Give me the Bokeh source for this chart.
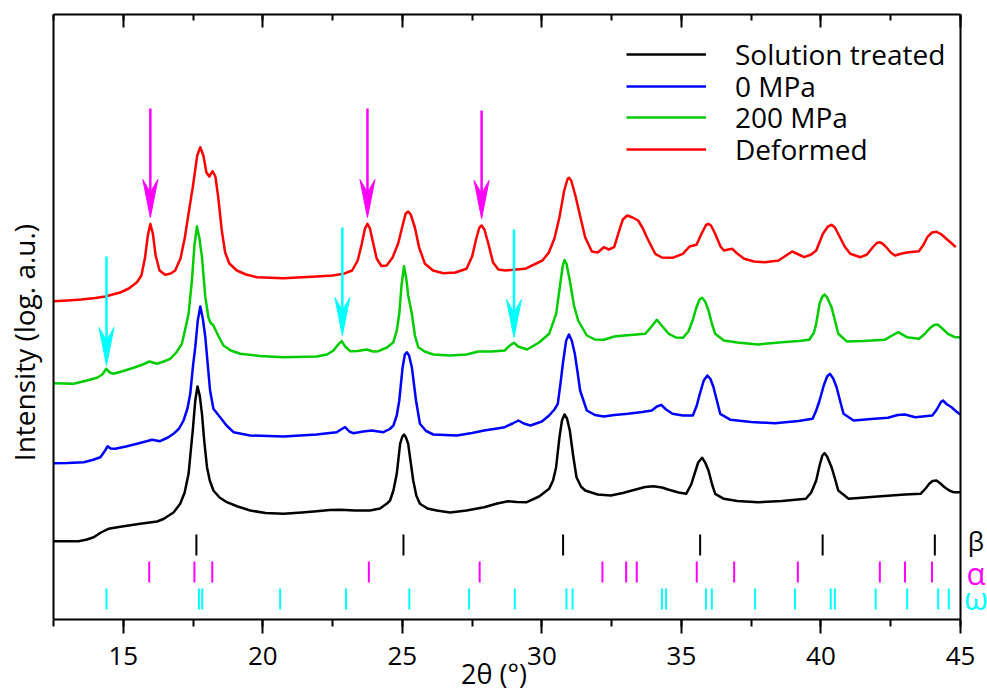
from math import pi
from bokeh.plotting import figure
from bokeh.models import (Range1d, LinearAxis, SingleIntervalTicker, Legend, LegendItem, Label, Span)
from bokeh.embed import file_html
from bokeh.resources import INLINE

# ---------------- data: (2theta [deg], intensity [log. a.u., offset]) ----------------
solution_treated = [(12.50, 78.3), (13.00, 78.3), (13.40, 78.3), (13.70, 80.0), (13.94, 82.3), (14.20, 87.0),
    (14.47, 90.7), (15.01, 93.3), (15.61, 95.7), (16.21, 98.0), (16.44, 100.5), (16.80, 107.0), (17.04, 115.7),
    (17.20, 127.0), (17.34, 145.7), (17.42, 169.0), (17.49, 189.0), (17.58, 219.0), (17.66, 233.0), (17.74, 224.0),
    (17.82, 205.7), (17.90, 179.0), (18.00, 152.3), (18.10, 139.0), (18.23, 129.0), (18.45, 122.0), (18.71, 117.3),
    (19.10, 113.0), (19.55, 109.0), (20.10, 106.5), (20.74, 105.7), (21.40, 107.0), (21.93, 108.3), (22.40, 109.5),
    (22.77, 109.7), (23.30, 109.0), (23.84, 109.0), (24.20, 111.0), (24.45, 116.0), (24.56, 119.0), (24.68, 129.0),
    (24.80, 145.7), (24.92, 175.7), (25.00, 183.0), (25.06, 185.0), (25.13, 182.0), (25.21, 175.7), (25.30, 157.0),
    (25.39, 139.0), (25.50, 124.0), (25.63, 115.7), (25.90, 111.0), (26.23, 109.0), (26.71, 107.0), (27.30, 109.0),
    (27.93, 112.3), (28.40, 116.0), (28.79, 118.3), (29.10, 117.5), (29.46, 117.3), (29.90, 123.0), (30.26, 130.7),
    (30.40, 139.0), (30.51, 152.3), (30.63, 182.3), (30.72, 199.0), (30.81, 205.0), (30.90, 201.0), (31.00, 189.0),
    (31.12, 164.0), (31.24, 142.3), (31.40, 133.0), (31.55, 129.0), (32.00, 125.0), (32.47, 124.0), (32.90, 126.5),
    (33.33, 129.7), (33.70, 132.5), (34.00, 133.3), (34.30, 132.0), (34.55, 129.7), (34.90, 127.0), (35.17, 125.7),
    (35.35, 135.0), (35.47, 145.7), (35.60, 157.0), (35.74, 161.7), (35.85, 157.0), (35.97, 149.0), (36.10, 135.0),
    (36.21, 125.7), (36.52, 120.7), (37.00, 118.5), (37.74, 117.3), (38.60, 118.5), (39.46, 120.7), (39.65, 127.0),
    (39.83, 139.0), (39.95, 154.0), (40.05, 164.0), (40.13, 166.3), (40.22, 163.0), (40.38, 152.3), (40.50, 141.0),
    (40.62, 129.0), (40.99, 120.7), (42.03, 123.0), (43.01, 125.0), (43.57, 125.7), (43.75, 131.0), (43.88, 135.7),
    (44.00, 138.5), (44.14, 139.0), (44.28, 136.0), (44.43, 132.3), (44.60, 129.0), (44.74, 127.3), (44.99, 127.3)]

mpa_0 = [(12.50, 156.3), (13.00, 156.5), (13.58, 157.3), (13.90, 159.5), (14.18, 162.3), (14.35, 169.0),
    (14.44, 173.3), (14.55, 171.0), (14.71, 170.7), (15.10, 173.0), (15.49, 175.7), (15.80, 178.0), (16.03, 179.7),
    (16.32, 178.3), (16.60, 182.0), (16.80, 185.7), (17.00, 191.0), (17.16, 199.0), (17.30, 211.0), (17.40, 225.7),
    (17.50, 254.0), (17.58, 272.3), (17.67, 299.0), (17.76, 313.0), (17.85, 301.0), (17.94, 282.3), (18.03, 254.0),
    (18.11, 229.0), (18.23, 210.7), (18.47, 202.3), (18.70, 194.0), (18.95, 187.3), (19.55, 184.0), (20.74, 183.0),
    (21.93, 185.0), (22.40, 186.5), (22.65, 187.3), (22.80, 190.0), (22.95, 192.3), (23.10, 188.0), (23.24, 186.3),
    (23.60, 188.0), (23.90, 189.0), (24.32, 187.3), (24.55, 190.5), (24.68, 194.0), (24.80, 204.0), (24.89, 219.0),
    (25.01, 252.3), (25.09, 265.0), (25.16, 267.3), (25.24, 264.0), (25.34, 252.3), (25.49, 219.0), (25.63, 195.7),
    (25.85, 188.5), (26.11, 185.0), (26.95, 184.0), (27.50, 186.5), (27.93, 189.0), (28.40, 191.0), (28.67, 192.3),
    (28.95, 196.0), (29.16, 199.0), (29.35, 196.0), (29.59, 194.0), (30.00, 198.0), (30.26, 204.0), (30.45, 210.0),
    (30.57, 215.7), (30.68, 239.0), (30.75, 255.7), (30.87, 279.0), (30.97, 285.0), (31.07, 279.0), (31.18, 265.7),
    (31.28, 247.0), (31.37, 229.0), (31.61, 209.0), (31.90, 204.5), (32.22, 203.0), (32.60, 204.5), (33.08, 205.7),
    (33.60, 207.5), (33.94, 209.0), (34.12, 213.0), (34.28, 214.7), (34.45, 210.0), (34.68, 205.7), (35.05, 204.0),
    (35.41, 204.0), (35.55, 214.0), (35.66, 225.7), (35.80, 239.0), (35.93, 244.0), (36.04, 240.5), (36.15, 232.3),
    (36.27, 219.0), (36.39, 205.7), (36.76, 199.7), (37.50, 197.5), (38.35, 196.3), (39.20, 198.5), (39.70, 200.7),
    (39.83, 209.0), (39.95, 219.0), (40.10, 234.0), (40.22, 243.0), (40.32, 245.7), (40.44, 241.0), (40.56, 232.3),
    (40.70, 217.0), (40.81, 205.7), (41.17, 199.0), (41.80, 200.5), (42.40, 201.7), (42.75, 204.5), (43.01, 205.0),
    (43.38, 202.3), (43.99, 204.0), (44.15, 210.0), (44.30, 217.5), (44.37, 219.0), (44.52, 215.0), (44.68, 212.3),
    (44.85, 208.0), (44.99, 205.0)]

mpa_200 = [(12.50, 236.3), (13.22, 235.7), (13.70, 239.0), (14.06, 241.7), (14.25, 245.0), (14.39, 250.7),
    (14.52, 247.0), (14.65, 245.7), (15.00, 248.5), (15.37, 251.7), (15.70, 255.0), (15.94, 258.0), (16.21, 255.7),
    (16.45, 258.0), (16.68, 260.7), (16.90, 267.0), (17.10, 275.7), (17.25, 294.0), (17.34, 305.7), (17.46, 339.0),
    (17.55, 374.0), (17.64, 393.0), (17.73, 381.0), (17.82, 362.3), (17.94, 322.3), (18.05, 302.3), (18.12, 297.0),
    (18.23, 294.0), (18.40, 284.0), (18.59, 274.0), (18.85, 269.0), (19.19, 265.7), (19.90, 263.5), (20.74, 262.3),
    (21.93, 263.0), (22.30, 265.0), (22.53, 269.0), (22.70, 275.0), (22.83, 278.3), (22.95, 273.0), (23.13, 268.3),
    (23.40, 268.5), (23.72, 270.0), (23.95, 268.0), (24.14, 268.3), (24.45, 272.0), (24.68, 277.3), (24.80, 289.0),
    (24.89, 305.7), (24.97, 334.0), (25.06, 353.3), (25.15, 339.0), (25.21, 324.0), (25.34, 305.7), (25.45, 284.0),
    (25.57, 272.3), (25.80, 268.0), (26.11, 265.0), (26.71, 264.0), (27.30, 265.0), (27.72, 268.0), (28.20, 268.0),
    (28.67, 269.0), (28.85, 274.0), (29.00, 276.7), (29.15, 273.0), (29.47, 270.0), (29.90, 277.0), (30.26, 285.7),
    (30.51, 305.7), (30.65, 334.0), (30.75, 354.0), (30.81, 359.5), (30.88, 356.0), (31.00, 339.0), (31.15, 314.0),
    (31.30, 299.0), (31.61, 284.0), (31.90, 280.0), (32.22, 279.7), (32.60, 283.0), (32.96, 284.0), (33.40, 285.0),
    (33.70, 285.7), (33.90, 292.0), (34.12, 299.7), (34.32, 293.0), (34.55, 285.7), (34.80, 282.0), (35.05, 281.7),
    (35.25, 288.0), (35.40, 299.0), (35.54, 312.3), (35.65, 320.0), (35.74, 321.7), (35.85, 318.0), (35.97, 309.0),
    (36.10, 295.0), (36.21, 285.7), (36.52, 279.0), (37.00, 277.0), (37.74, 275.0), (38.60, 277.3), (39.20, 278.5),
    (39.58, 279.7), (39.75, 287.0), (39.83, 295.7), (39.95, 315.7), (40.05, 323.0), (40.13, 325.0), (40.22, 322.0),
    (40.38, 312.3), (40.50, 299.0), (40.62, 285.7), (40.93, 278.0), (41.50, 278.5), (42.28, 279.7), (42.55, 284.0),
    (42.77, 287.3), (43.08, 282.3), (43.51, 280.7), (43.70, 285.0), (43.88, 290.7), (44.05, 294.5), (44.18, 295.0),
    (44.35, 291.0), (44.55, 285.7), (44.80, 282.3), (44.99, 282.3)]

deformed = [(12.50, 318.3), (13.00, 319.0), (13.50, 320.0), (14.00, 321.5), (14.35, 323.0), (14.89, 327.0),
    (15.20, 331.0), (15.49, 337.3), (15.65, 344.0), (15.78, 362.0), (15.88, 384.0), (15.97, 395.5), (16.06, 386.0),
    (16.16, 364.0), (16.30, 349.0), (16.50, 344.7), (16.70, 346.0), (16.86, 349.0), (17.05, 361.0), (17.20, 381.0),
    (17.34, 406.0), (17.50, 434.0), (17.65, 464.0), (17.76, 472.3), (17.87, 464.0), (17.98, 447.0), (18.08, 443.0),
    (18.20, 448.3), (18.30, 443.0), (18.40, 423.0), (18.53, 389.0), (18.65, 367.0), (18.80, 356.0), (19.07, 349.0),
    (19.40, 345.0), (19.79, 342.3), (20.74, 341.3), (21.93, 343.0), (22.50, 344.0), (22.89, 345.7), (23.20, 349.0),
    (23.40, 359.0), (23.55, 376.0), (23.66, 391.0), (23.75, 395.7), (23.84, 391.0), (23.96, 375.7), (24.08, 361.0),
    (24.25, 353.5), (24.44, 354.0), (24.65, 362.0), (24.85, 376.0), (25.00, 393.0), (25.12, 406.0), (25.21, 408.0),
    (25.30, 405.0), (25.45, 392.0), (25.60, 372.0), (25.81, 355.7), (26.10, 349.0), (26.47, 346.3), (26.90, 347.0),
    (27.30, 350.7), (27.50, 363.0), (27.65, 381.0), (27.76, 392.0), (27.84, 394.0), (27.94, 390.0), (28.08, 376.0),
    (28.25, 357.0), (28.44, 350.0), (28.70, 349.0), (29.40, 350.7), (30.02, 359.0), (30.25, 367.0), (30.45, 381.0),
    (30.63, 402.3), (30.80, 429.0), (30.92, 440.5), (30.97, 441.7), (31.05, 439.0), (31.20, 424.0), (31.35, 406.0),
    (31.55, 382.3), (31.79, 368.0), (32.00, 367.0), (32.22, 372.3), (32.40, 370.0), (32.59, 372.3), (32.75, 387.0),
    (32.90, 400.0), (33.06, 404.0), (33.25, 402.0), (33.45, 399.0), (33.62, 391.0), (33.76, 382.3), (34.06, 365.7),
    (34.30, 362.0), (34.68, 361.7), (35.05, 365.7), (35.29, 373.0), (35.54, 374.7), (35.72, 385.7), (35.88, 394.5),
    (35.97, 395.7), (36.06, 394.0), (36.21, 385.7), (36.40, 373.0), (36.52, 369.0), (36.68, 370.0), (36.82, 370.7),
    (37.00, 366.0), (37.25, 360.7), (37.60, 358.0), (37.99, 357.3), (38.48, 359.0), (38.75, 364.0), (38.97, 368.0),
    (39.20, 365.0), (39.40, 362.3), (39.65, 365.0), (39.83, 369.0), (40.07, 385.7), (40.25, 393.0), (40.38, 394.7),
    (40.50, 392.0), (40.68, 382.3), (40.85, 373.0), (41.05, 365.7), (41.42, 362.3), (41.65, 365.0), (41.85, 372.0),
    (42.00, 376.5), (42.10, 377.3), (42.20, 376.0), (42.34, 372.3), (42.50, 367.0), (42.65, 364.0), (42.90, 366.0),
    (43.14, 367.3), (43.51, 368.3), (43.68, 375.0), (43.81, 382.3), (43.98, 387.0), (44.14, 387.7), (44.30, 385.5),
    (44.49, 380.7), (44.65, 377.0), (44.83, 372.3)]

series_names = ["Solution treated", "0 MPa", "200 MPa", "Deformed"]

# reference reflection positions (2theta, deg)
beta_peaks = [17.62, 25.04, 30.76, 35.67, 40.06, 44.08]
alpha_peaks = [15.93, 17.55, 18.19, 23.80, 27.77, 32.17, 33.02, 33.40, 35.55, 36.89, 39.17, 42.11, 43.01, 43.98]
omega_peaks = [14.40, 17.71, 17.83, 20.62, 22.98, 25.25, 27.39, 29.03, 30.88, 31.10, 34.30, 34.45, 35.88, 36.09,
               37.64, 39.07, 40.35, 40.50, 41.96, 43.09, 44.20, 44.58]
phase_names = ["β", "α", "ω"]

# marker arrows: 2theta, start intensity, tip intensity
alpha_arrow_2theta = [15.97, 23.75, 27.84]
alpha_arrow_from = [511, 511, 509]
alpha_arrow_to = [402, 402, 401]
omega_arrow_2theta = [14.40, 22.85, 29.00]
omega_arrow_from = [363, 392, 390]
omega_arrow_to = [254, 284, 282]

# ---------------- layout / style ----------------
X0, X1 = 12.5, 45.0          # axis extent
Y0, Y1 = 0, 605
W, H = 987, 694
AX_L, AX_R = 53, 960         # pixel position of the axis ends
BT, BB = 14, 75
FRAME_H = H - BT - BB
PX_X = (AX_R - AX_L) / (X1 - X0)   # pixels per degree
PX_Y = FRAME_H / (Y1 - Y0)
FONT = "Open Sans"
C_BETA, C_ALPHA, C_OMEGA = "black", "#FF00FF", "#00FFFF"
colors = ["black", "#0000FF", "#00CC00", "#FF0000"]

p = figure(width=W, height=H, output_backend="svg", toolbar_location=None,
           x_range=Range1d(X0 - AX_L / PX_X, X1 + (W - AX_R) / PX_X), y_range=Range1d(Y0, Y1),
           x_axis_location=None, y_axis_location=None,
           min_border_left=0, min_border_right=0, min_border_top=BT, min_border_bottom=BB)
p.outline_line_color = None
p.grid.visible = False
p.background_fill_color = "white"
p.border_fill_color = "white"


def base_axis(ax):
    ax.bounds = (X0, X1)
    ax.axis_line_width = 2
    ax.axis_line_color = "black"
    ax.major_tick_line_width = 2
    ax.minor_tick_line_width = 2
    ax.major_tick_line_color = "black"
    ax.minor_tick_line_color = "black"
    return ax


xb = base_axis(LinearAxis(ticker=SingleIntervalTicker(interval=5, num_minor_ticks=2)))
xb.major_tick_out, xb.major_tick_in = 14, 0
xb.minor_tick_out, xb.minor_tick_in = 7, 0
xb.major_label_text_font = FONT
xb.major_label_text_font_size = "26px"
xb.major_label_text_color = "black"
xb.major_label_standoff = 13
xb.axis_label = "2θ (°)"
xb.axis_label_text_font = FONT
xb.axis_label_text_font_size = "27px"
xb.axis_label_text_font_style = "normal"
xb.axis_label_text_color = "black"
xb.axis_label_standoff = -13
p.add_layout(xb, "below")

xt = base_axis(LinearAxis(ticker=SingleIntervalTicker(interval=5, num_minor_ticks=2)))
xt.major_tick_out, xt.major_tick_in = 0, 13
xt.minor_tick_out, xt.minor_tick_in = 0, 6
xt.major_label_text_font_size = "1px"
xt.major_label_text_color = None
xt.major_label_standoff = 0
p.add_layout(xt, "above")

# left / right frame lines
for loc in (X0, X1):
    p.add_layout(Span(location=loc, dimension="height", line_color="black", line_width=2))

# ---------------- curves ----------------
renderers = []
for data, col in zip([solution_treated, mpa_0, mpa_200, deformed], colors):
    xs = [d[0] for d in data]
    ys = [d[1] for d in data]
    renderers.append(p.line(xs, ys, line_color=col, line_width=2.5, line_join="round"))

# ---------------- reflection tick rows ----------------
ROWS = {"β": (64, 85), "α": (37, 58), "ω": (10, 31)}
for name, peaks, col in zip(phase_names, [beta_peaks, alpha_peaks, omega_peaks], [C_BETA, C_ALPHA, C_OMEGA]):
    lo, hi = ROWS[name]
    p.segment(x0=peaks, y0=[lo] * len(peaks), x1=peaks, y1=[hi] * len(peaks),
              line_color=col, line_width=2)

# row letters right of the frame
LETTER_Y = {"β": 79, "α": 47, "ω": 22}
LETTER_SIZE = {"β": "26px", "α": "31px", "ω": "31px"}
for name, col in zip(phase_names, [C_BETA, C_ALPHA, C_OMEGA]):
    p.add_layout(Label(x=X1 + 15.5 / PX_X, y=LETTER_Y[name], text=name, text_color=col,
                       text_font=FONT, text_font_size=LETTER_SIZE[name], text_align="center",
                       text_baseline="alphabetic"))

# ---------------- arrows ----------------
HEAD_L, HEAD_W, NOTCH = 38, 15, 25   # px


def draw_arrows(xs, y_from, y_to, col):
    p.segment(x0=xs, y0=y_from, x1=xs, y1=[t + NOTCH / PX_Y for t in y_to],
              line_color=col, line_width=2.5)
    hx, hy = [], []
    for x, t in zip(xs, y_to):
        dw = HEAD_W / 2 / PX_X
        hx.append([x, x - dw, x, x + dw])
        hy.append([t, t + HEAD_L / PX_Y, t + NOTCH / PX_Y, t + HEAD_L / PX_Y])
    p.patches(hx, hy, fill_color=col, line_color=col, line_width=1)


draw_arrows(alpha_arrow_2theta, alpha_arrow_from, alpha_arrow_to, C_ALPHA)
draw_arrows(omega_arrow_2theta, omega_arrow_from, omega_arrow_to, C_OMEGA)

# ---------------- legend (one row per legend for exact spacing) ----------------
LEG_X = 626          # px from frame left
ROW_CENTERS = [54, 85.5, 117, 148.5]   # px from top of page
ITEM_H = 38
for name, r, rc in zip(series_names, renderers, ROW_CENTERS):
    lg = Legend(items=[LegendItem(label=name, renderers=[r])],
                location=(LEG_X, H - BB - rc - ITEM_H / 2))
    lg.glyph_width = 80
    lg.glyph_height = ITEM_H
    lg.label_height = ITEM_H
    lg.label_standoff = 29
    lg.spacing = 0
    lg.padding = 0
    lg.margin = 0
    lg.border_line_color = None
    lg.background_fill_alpha = 0
    lg.label_text_font = FONT
    lg.label_text_font_size = "28px"
    lg.label_text_color = "black"
    p.add_layout(lg, "center")

# ---------------- y title ----------------
p.add_layout(Label(x=X0 - 30 / PX_X, y=277, text="Intensity (log. a.u.)", angle=pi / 2,
                   text_font=FONT, text_font_size="28px", text_align="center",
                   text_baseline="alphabetic", text_color="black"))

open("out.html", "w").write(file_html(p, INLINE))
